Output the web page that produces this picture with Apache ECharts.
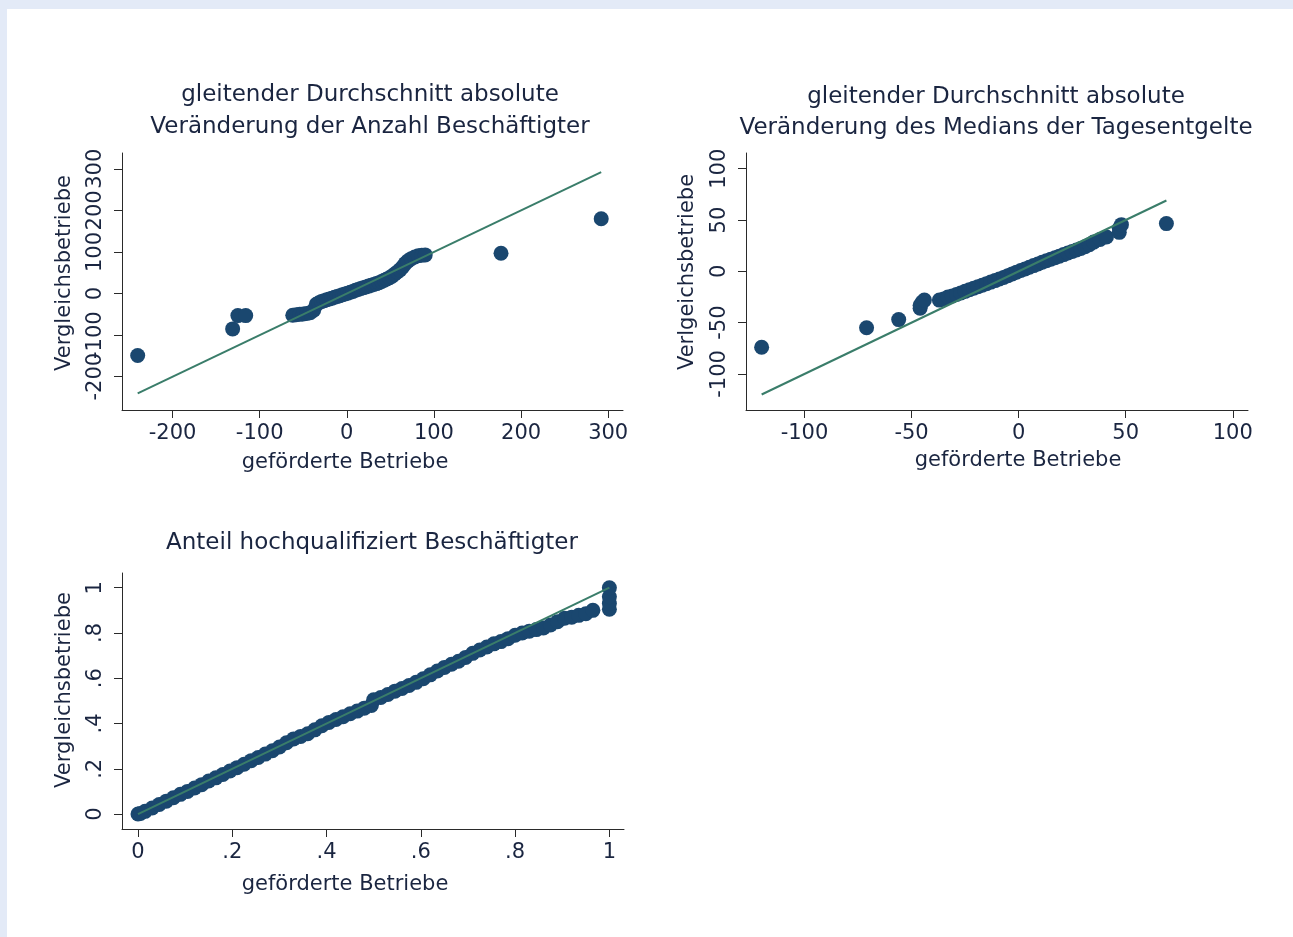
<!DOCTYPE html>
<html>
<head>
<meta charset="utf-8">
<script src="https://cdn.jsdelivr.net/npm/echarts@6/dist/echarts.min.js"></script>
<style>
html,body{margin:0;padding:0;background:#ffffff;}
#chart{width:1293px;height:937px;}
</style>
</head>
<body>
<div id="chart"></div>
<script>
// ---------- Panel 1: gleitender Durchschnitt absolute Veränderung der Anzahl Beschäftigter ----------
const p1Title = ['gleitender Durchschnitt absolute', 'Veränderung der Anzahl Beschäftigter'];
const p1X = [-240, -131, -125, -116, -62, -58, -54, -50, -46, -42, -38, -35, -32, -29, -26, -23, -20, -17, -14, -11, -8, -5, -2,
  1, 4, 7, 10, 13, 16, 19, 22, 25, 28, 31, 34, 37, 40, 43, 46, 49, 52, 55, 58, 61, 64, 67, 70, 74, 78, 82, 86, 90, 177, 292];
const p1Y = [-149, -85, -53, -53, -52, -51, -50, -49, -48, -46, -40, -26, -22, -19, -17, -15, -13, -11, -9, -7, -5, -3, -1,
  1, 3, 5, 8, 10, 12, 14, 16, 18, 20, 22, 24, 26, 29, 32, 35, 38, 42, 47, 52, 57, 64, 72, 78, 84, 88, 91, 92, 93, 97, 180];
const p1Ref = [-240, 292];
const p1XTicks = [-200, -100, 0, 100, 200, 300];
const p1XTickLabels = ['-200', '-100', '0', '100', '200', '300'];
const p1YTicks = [-200, -100, 0, 100, 200, 300];
const p1YTickLabels = ['-200', '-100', '0', '100', '200', '300'];

// ---------- Panel 2: Veränderung des Medians der Tagesentgelte ----------
const p2Title = ['gleitender Durchschnitt absolute', 'Veränderung des Medians der Tagesentgelte'];
const p2X = [-120, -71, -56, -46, -46, -45, -44, -37, -35, -33, -31, -29, -27, -25, -23, -21, -19, -17, -15, -13, -11, -9, -7, -5, -3, -1,
  1, 3, 5, 7, 9, 11, 13, 15, 17, 19, 21, 23, 25, 27, 29, 31, 33, 35, 38, 41, 47, 47, 48, 69];
const p2Y = [-74, -55, -47, -36, -33, -30, -28, -28, -27, -25, -24, -22.5, -21, -19.5, -18, -16.5, -15, -13.5, -12, -10.5, -9, -7.5, -6, -4.2, -2.5, -0.8,
  0.8, 2.4, 4, 5.6, 7.2, 8.8, 10.3, 11.8, 13.3, 14.8, 16.3, 17.8, 19.3, 20.8, 22.3, 24, 26, 28.5, 31, 33.5, 38, 42, 45.5, 46.5];
const p2Ref = [-120, 69];
const p2XTicks = [-100, -50, 0, 50, 100];
const p2XTickLabels = ['-100', '-50', '0', '50', '100'];
const p2YTicks = [-100, -50, 0, 50, 100];
const p2YTickLabels = ['-100', '-50', '0', '50', '100'];

// ---------- Panel 3: Anteil hochqualifiziert Beschäftigter ----------
const p3Title = ['Anteil hochqualifiziert Beschäftigter'];
const p3X = [0, 0.005, 0.015, 0.03, 0.045, 0.06, 0.075, 0.09, 0.105, 0.12, 0.135, 0.15, 0.165, 0.18, 0.195, 0.21, 0.225, 0.24, 0.255, 0.27,
  0.285, 0.3, 0.315, 0.33, 0.345, 0.36, 0.375, 0.39, 0.405, 0.42, 0.435, 0.45, 0.465, 0.48, 0.495, 0.5, 0.515, 0.53, 0.545, 0.56,
  0.575, 0.59, 0.605, 0.62, 0.635, 0.65, 0.665, 0.68, 0.695, 0.71, 0.725, 0.74, 0.755, 0.77, 0.785, 0.8, 0.815, 0.83, 0.845, 0.86,
  0.875, 0.89, 0.905, 0.92, 0.935, 0.95, 0.965, 1, 1, 1, 1];
const p3Y = [0, 0.003, 0.012, 0.027, 0.042, 0.057, 0.072, 0.087, 0.1, 0.115, 0.13, 0.146, 0.16, 0.175, 0.19, 0.205, 0.22, 0.236, 0.25, 0.265,
  0.28, 0.296, 0.315, 0.332, 0.343, 0.355, 0.372, 0.39, 0.405, 0.418, 0.43, 0.443, 0.455, 0.468, 0.48, 0.505, 0.515, 0.528, 0.543, 0.555,
  0.568, 0.582, 0.598, 0.615, 0.632, 0.648, 0.662, 0.675, 0.692, 0.71, 0.725, 0.738, 0.752, 0.762, 0.775, 0.79, 0.8, 0.808, 0.815, 0.822,
  0.835, 0.85, 0.865, 0.87, 0.878, 0.885, 0.9, 0.905, 0.93, 0.96, 1.0];
const p3Ref = [0, 1];
const p3XTicks = [0, 0.2, 0.4, 0.6, 0.8, 1];
const p3XTickLabels = ['0', '.2', '.4', '.6', '.8', '1'];
const p3YTicks = [0, 0.2, 0.4, 0.6, 0.8, 1];
const p3YTickLabels = ['0', '.2', '.4', '.6', '.8', '1'];

const xName = 'geförderte Betriebe';
const yNames = ['Vergleichsbetriebe', 'Verlgeichsbetriebe', 'Vergleichsbetriebe'];

// ---------- styling ----------
const FONT = '"DejaVu Sans", "Liberation Sans", sans-serif';
const TEXT = '#1a2540';
const AXIS = '#2a2a2a';
const DOT = '#1a476f';
const REF = '#3a7d6a';
const MARK = 15;

function pairs(xs, ys) { return xs.map((x, i) => [x, ys[i]]); }
function refLine(r) { return [[r[0], r[0]], [r[1], r[1]]]; }
// order label values so that neighbouring entries are never adjacent ticks
// (stops ECharts from dropping a label next to the min/max label when Stata-style labels touch)
function interleave(arr) {
  const a = [], b = [];
  arr.forEach((v, i) => (i % 2 === 0 ? a : b).push(v));
  return a.concat(b);
}

function makeAxis(kind, gi, min, max, ticks, labels) {
  const isY = kind === 'y';
  return {
    type: 'value', gridIndex: gi, min: min, max: max,
    axisLine: { show: true, onZero: false, lineStyle: { color: AXIS, width: 1 } },
    axisTick: { show: true, inside: false, length: 8, customValues: ticks, lineStyle: { color: AXIS, width: 1 } },
    splitLine: { show: false },
    axisLabel: {
      customValues: interleave(ticks),
      rotate: isY ? 90 : 0,
      margin: isY ? 16 : 13,
      color: TEXT, fontFamily: FONT, fontSize: 21,
      hideOverlap: false, showMinLabel: true, showMaxLabel: true,
      formatter: function (v) {
        const i = ticks.indexOf(v);
        return i >= 0 ? labels[i] : String(v);
      }
    }
  };
}

function txt(text, x, y, size, rot) {
  return {
    type: 'text', x: x, y: y, rotation: rot || 0, z: 10,
    style: {
      text: text, fill: TEXT, font: size + 'px ' + FONT,
      align: 'center', verticalAlign: 'middle',
      textAlign: 'center', textVerticalAlign: 'middle'
    }
  };
}

const chart = echarts.init(document.getElementById('chart'), null, { renderer: 'canvas' });

const option = {
  animation: false,
  backgroundColor: '#ffffff',
  grid: [
    { left: 122, top: 153, width: 501, height: 257 },
    { left: 746, top: 153, width: 502, height: 257 },
    { left: 122, top: 573, width: 502, height: 256 }
  ],
  xAxis: [
    makeAxis('x', 0, -258, 317, p1XTicks, p1XTickLabels),
    makeAxis('x', 1, -127.3, 107.1, p2XTicks, p2XTickLabels),
    makeAxis('x', 2, -0.034, 1.031, p3XTicks, p3XTickLabels)
  ],
  yAxis: [
    makeAxis('y', 0, -280, 338, p1YTicks, p1YTickLabels),
    makeAxis('y', 1, -135.1, 115.3, p2YTicks, p2YTickLabels),
    makeAxis('y', 2, -0.066, 1.065, p3YTicks, p3YTickLabels)
  ],
  series: [
    { type: 'scatter', xAxisIndex: 0, yAxisIndex: 0, data: pairs(p1X, p1Y), symbolSize: MARK, itemStyle: { color: DOT, opacity: 1 }, z: 2 },
    { type: 'line', xAxisIndex: 0, yAxisIndex: 0, data: refLine(p1Ref), symbol: 'none', lineStyle: { color: REF, width: 2 }, z: 3 },
    { type: 'scatter', xAxisIndex: 1, yAxisIndex: 1, data: pairs(p2X, p2Y), symbolSize: MARK, itemStyle: { color: DOT, opacity: 1 }, z: 2 },
    { type: 'line', xAxisIndex: 1, yAxisIndex: 1, data: refLine(p2Ref), symbol: 'none', lineStyle: { color: REF, width: 2 }, z: 3 },
    { type: 'scatter', xAxisIndex: 2, yAxisIndex: 2, data: pairs(p3X, p3Y), symbolSize: MARK, itemStyle: { color: DOT, opacity: 1 }, z: 2 },
    { type: 'line', xAxisIndex: 2, yAxisIndex: 2, data: refLine(p3Ref), symbol: 'none', lineStyle: { color: REF, width: 2 }, z: 3 }
  ],
  graphic: [
    { type: 'rect', z: 0, shape: { x: 0, y: 0, width: 1293, height: 9 }, style: { fill: '#e3eaf7' } },
    { type: 'rect', z: 0, shape: { x: 0, y: 0, width: 7, height: 937 }, style: { fill: '#e3eaf7' } },
    txt(p1Title[0], 370, 95, 23), txt(p1Title[1], 370, 127, 23),
    txt(p2Title[0], 996, 97, 23), txt(p2Title[1], 996, 128, 23),
    txt(p3Title[0], 372, 543, 23),
    txt(xName, 345, 463, 21), txt(xName, 1018, 461, 21), txt(xName, 345, 885, 21),
    txt(yNames[0], 65, 273, 21, Math.PI / 2),
    txt(yNames[1], 688, 272, 21, Math.PI / 2),
    txt(yNames[2], 65, 690, 21, Math.PI / 2)
  ]
};
chart.setOption(option);
</script>
</body>
</html>
